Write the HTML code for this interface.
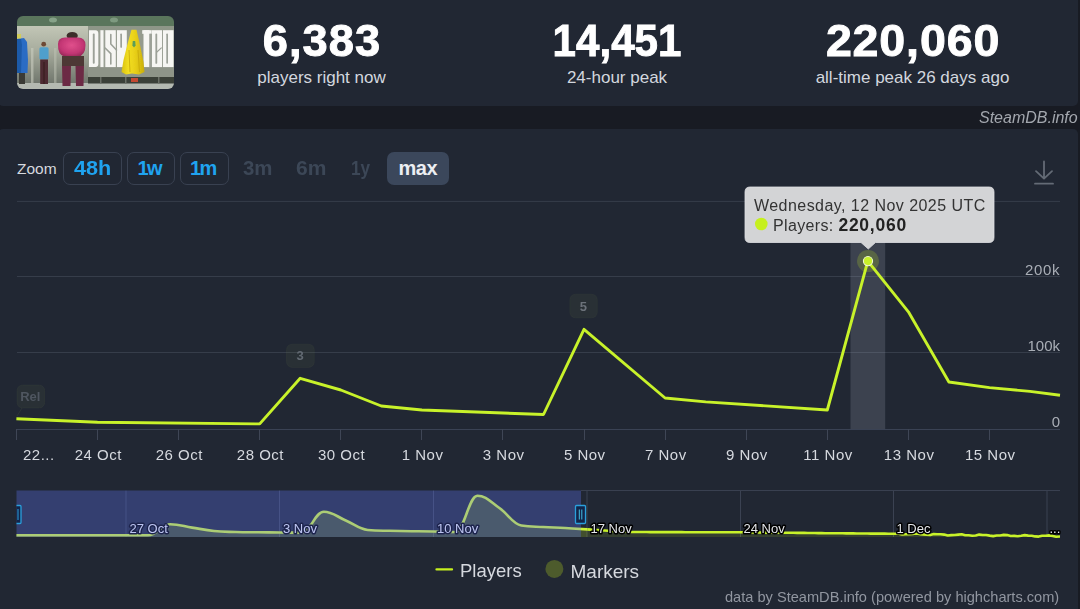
<!DOCTYPE html>
<html><head><meta charset="utf-8">
<style>
html,body{margin:0;padding:0;width:1080px;height:609px;overflow:hidden;background:#181b23;font-family:"Liberation Sans",sans-serif;}
.abs{position:absolute;white-space:pre;line-height:1;}
.panel{position:absolute;background:#212733;border-radius:5px;}
.num{font-weight:bold;font-size:43.5px;color:#fff;text-align:center;width:296px;-webkit-text-stroke:0.9px #fff;}
.sub{font-size:17px;color:#d3d7df;text-align:center;width:296px;margin-top:1px}
.btn{position:absolute;top:152px;height:31px;border:1px solid #394151;border-radius:7px;box-sizing:content-box;}
.bt{font-weight:bold;font-size:20px;color:#1fa3f0;}
.dim{font-weight:bold;font-size:20px;color:#3c4757;}
.xl{font-size:15px;color:#d6d9df;}
.yl{font-size:15px;color:#a9aeb6;text-align:right;width:60px;}
.nl{font-size:13.5px;color:#c9cbe6;text-shadow:0 0 2px #161a2a,0 0 2px #161a2a,1px 1px 1px #161a2a,-1px -1px 1px #161a2a;}
</style></head><body>
<div class="panel" style="left:-2px;top:-10px;width:1080px;height:116px;"></div>
<div class="panel" style="left:-2px;top:129px;width:1080px;height:500px;"></div>

<!-- game image -->
<!--GAME-->
<svg class="abs" style="left:17px;top:16px" width="157" height="73" viewBox="17 16 157 73">
  <defs>
    <clipPath id="rc"><rect x="17" y="16" width="157" height="73" rx="6"/></clipPath>
    <linearGradient id="wallg" x1="0" y1="0" x2="0" y2="1">
      <stop offset="0" stop-color="#c2c6b6"/><stop offset="0.4" stop-color="#a9ae9f"/><stop offset="1" stop-color="#6f756b"/>
    </linearGradient>
    <linearGradient id="capeg" x1="0" y1="0" x2="1" y2="0">
      <stop offset="0" stop-color="#d8c010"/><stop offset="0.3" stop-color="#f2de22"/><stop offset="0.6" stop-color="#e8cf18"/><stop offset="1" stop-color="#c9ae0c"/>
    </linearGradient>
    <radialGradient id="pinkg" cx="0.5" cy="0.4" r="0.6">
      <stop offset="0" stop-color="#e0508c"/><stop offset="0.7" stop-color="#c33674"/><stop offset="1" stop-color="#9a2a5a"/>
    </radialGradient>
    <filter id="soft" x="-5%" y="-5%" width="110%" height="110%"><feGaussianBlur stdDeviation="0.7"/></filter>
  </defs>
  <g clip-path="url(#rc)">
   <g filter="url(#soft)">
    <rect x="17" y="16" width="157" height="73" fill="#a9ae9f"/>
    <!-- ceiling band -->
    <rect x="17" y="16" width="157" height="10.5" fill="#5a745c"/>
    <ellipse cx="53" cy="20" rx="4" ry="2.5" fill="#86a288"/>
    <ellipse cx="114" cy="20" rx="4" ry="2.5" fill="#7e9a80"/>
    <!-- wall left -->
    <rect x="17" y="26" width="72" height="58" fill="url(#wallg)"/>
    <rect x="31" y="48" width="2.5" height="35" fill="#c9cdc0" opacity="0.6"/>
    <rect x="54" y="48" width="2.5" height="35" fill="#c0c4b6" opacity="0.5"/>
    <!-- floor -->
    <rect x="17" y="83" width="157" height="6" fill="#b4b9b1"/>
    <!-- blue caped figure -->
    <path d="M17 39 L24 38 L27 42 L28 60 L27.5 73 L17 73Z" fill="#2b6cc4"/>
    <path d="M17 39 L21 38.5 L22 45 L21 73 L17 73Z" fill="#1f5aa8"/>
    <rect x="17" y="34" width="4" height="4.5" fill="#d2cc58"/>
    <rect x="19" y="73" width="6" height="11" fill="#3b3a34"/>
    <!-- light blue figure -->
    <circle cx="43.7" cy="44.2" r="2.4" fill="#6d4a36"/>
    <rect x="39.4" y="47.2" width="9.2" height="12.4" rx="1.5" fill="#4f9fcc"/>
    <rect x="40.2" y="59.5" width="7.8" height="24.5" fill="#4e2a30"/>
    <rect x="43.6" y="62" width="0.8" height="22" fill="#2e1a20"/>
    <!-- pink figure -->
    <ellipse cx="72.2" cy="35.8" rx="5.6" ry="3.8" fill="#3e2d2b"/>
    <path d="M58 44 Q58 37 66 37.5 L77 37.5 Q85.5 37 85.5 45 Q85.5 55 78 57 L65 57 Q57.5 55 58 44Z" fill="url(#pinkg)"/>
    <rect x="62" y="56" width="22" height="10" fill="#4d3836"/>
    <path d="M62 66 L71 66 L70.5 86 L62.5 86Z M75.5 66 L84 66 L83.5 86 L76 86Z" fill="#6c2c44"/>
    <!-- stalls right -->
    <rect x="88" y="26" width="86" height="42" fill="#959b8e"/>
    <rect x="88" y="67" width="86" height="10" fill="#8e9488"/>
    <rect x="88" y="77" width="86" height="6.5" fill="#3a3f39"/>
    <rect x="100" y="77" width="1.5" height="6.5" fill="#6a6f66"/>
    <rect x="125" y="77" width="1.5" height="6.5" fill="#6a6f66"/>
    <rect x="158" y="77" width="1.5" height="6.5" fill="#6a6f66"/>
    <!-- letters -->
    <rect x="88" y="26" width="86" height="4.2" fill="#8e9688"/>
    <g fill="#f6f6f3">
      <path d="M89 30.2 H95.5 Q98.5 30.2 98.5 34 V63.3 Q98.5 67.1 95.5 67.1 H89Z"/>
      <rect x="100.3" y="30.2" width="3.4" height="36.9"/>
      <rect x="105.2" y="30.2" width="10.6" height="36.9"/>
      <rect x="117" y="30.2" width="9.8" height="36.9"/>
      <rect x="142.2" y="30.2" width="9.4" height="3.6"/>
      <rect x="143.5" y="30.2" width="6" height="36.9"/>
      <rect x="151.8" y="30.2" width="10.4" height="36.9"/>
      <rect x="163" y="30.2" width="10.5" height="36.9"/>
    </g>
    <g fill="#9ca198">
      <rect x="92.8" y="33.5" width="1.9" height="30.2" rx="0.9"/>

      <rect x="120.3" y="33.5" width="1.7" height="14.4" rx="0.8"/>
      <path d="M149.5 33.8 H151.8 V67.1 H149.5Z"/>
      <rect x="155.4" y="33.5" width="1.8" height="30.3" rx="0.9"/>
      <path d="M156.5 51.5 L161.5 47 L161.8 48.2 L157 52.7Z"/>
      <rect x="166.3" y="33.5" width="1.7" height="30.3" rx="0.8"/>
      <rect x="98.7" y="30.2" width="1.4" height="36.9" fill="#9aa094"/>
      <rect x="103.8" y="30.2" width="1.3" height="36.9" fill="#9aa094"/>
      <rect x="116" y="30.2" width="0.9" height="36.9" fill="#9aa094"/>
      <rect x="162.3" y="30.2" width="0.7" height="36.9" fill="#9aa094"/>
    </g>
    <path d="M110.8 34.6 V44 L116.5 50 M105.1 48 L110.8 53.6 V63.9" fill="none" stroke="#9ca198" stroke-width="1.6" stroke-linecap="round"/>
    <!-- cape -->
    <path d="M131.5 29.8 L136.5 29.8 L140 45 L143.5 62 L144.5 72 L139 74.5 L132 73.5 L126 74.5 L121.5 72 L123.5 60 L127.5 44Z" fill="url(#capeg)"/>
    <path d="M129 50 L130 72 M138 50 L139.5 72" stroke="#c9ac0a" stroke-width="0.9"/>
    <path d="M132.8 41 L135.2 41 L135.6 45.5 L134 47.5 L132.4 45.5Z" fill="#5a9e58"/>
    <rect x="131" y="78" width="7" height="4" fill="#c44a30"/>
   </g>
  </g>
</svg>
<!--/GAME-->

<!-- stats -->
<div class="abs num" style="left:174px;top:19.9px;letter-spacing:1px;transform:scaleX(1.04)">6,383</div>
<div class="abs sub" style="left:173.5px;top:68.2px">players right now</div>
<div class="abs num" style="left:469px;top:19.9px;letter-spacing:0px;transform:scaleX(0.968)">14,451</div>
<div class="abs sub" style="left:469px;top:68.2px">24-hour peak</div>
<div class="abs num" style="left:765px;top:19.9px;letter-spacing:0.8px;transform:scaleX(1.07)">220,060</div>
<div class="abs sub" style="left:764.5px;top:68.2px">all-time peak 26 days ago</div>
<div class="abs" style="left:979px;top:110px;font-size:16px;font-style:italic;color:#a3a7ae">SteamDB.info</div>

<!-- zoom buttons -->
<div class="abs" style="left:17px;top:160.6px;font-size:15.5px;color:#d6d9df">Zoom</div>
<div class="btn" style="left:63px;width:57px"></div>
<div class="btn" style="left:127px;width:46px"></div>
<div class="btn" style="left:180px;width:47px"></div>
<div class="abs" style="left:387px;top:152px;width:62px;height:33px;background:#3b475b;border-radius:7px"></div>
<div class="abs bt" style="left:74px;top:158.2px;transform:scaleX(1.08);transform-origin:0 0">48h</div>
<div class="abs bt" style="left:137.5px;top:158.2px;letter-spacing:-1.5px">1w</div>
<div class="abs bt" style="left:190px;top:158.2px;letter-spacing:-1.5px">1m</div>
<div class="abs dim" style="left:242.5px;top:158.2px;transform:scaleX(1.02);transform-origin:0 0">3m</div>
<div class="abs dim" style="left:295.5px;top:158.2px;transform:scaleX(1.05);transform-origin:0 0">6m</div>
<div class="abs dim" style="left:350.5px;top:158.2px;transform:scaleX(0.86);transform-origin:0 0">1y</div>
<div class="abs" style="left:398.5px;top:158.2px;font-weight:bold;font-size:20px;color:#eceef2;letter-spacing:-0.45px">max</div>

<!-- chart svg -->
<svg class="abs" style="left:0;top:0" width="1080" height="609" viewBox="0 0 1080 609">
  <!-- download icon -->
  <g stroke="#646b76" stroke-width="1.8" fill="none" stroke-linecap="round" stroke-linejoin="round">
    <path d="M1044 161.5 V178 M1036 171.2 L1044 178.6 L1052 171.2 M1035 183.7 H1053"/>
  </g>
  <!-- grid -->
  <g stroke="#363d4a" stroke-width="1">
    <path d="M17 201.4 H1060 M17 276.5 H1060 M17 352.5 H1060"/>
  </g>
  <path d="M17 429.5 H1060" stroke="#3a4254" stroke-width="1.2"/>
  <g stroke="#3f4656" stroke-width="1">
    <path d="M16.5 429 V440 M97.5 429 V440 M178.5 429 V440 M259.5 429 V440 M340.5 429 V440 M421.5 429 V440 M502.5 429 V440 M584.5 429 V440 M665.5 429 V440 M746.5 429 V440 M827.5 429 V440 M908.5 429 V440 M989.5 429 V440"/>
  </g>
  <!-- crosshair band -->
  <rect x="850.5" y="201" width="34.7" height="228" fill="#b4bcc8" fill-opacity="0.19"/>
  <!-- markers -->
  <g fill="#6f8048" fill-opacity="0.11" stroke="#7a8a50" stroke-opacity="0.07" stroke-width="1">
    <rect x="286.5" y="344.2" width="27.8" height="23.2" rx="5.5"/>
    <rect x="569.8" y="294.2" width="27.5" height="23.6" rx="5.5"/>
    <rect x="17" y="385" width="27.7" height="23" rx="5.5"/>
  </g>
  <path d="M22 408 L17 416" stroke="#6f8048" stroke-opacity="0.15" stroke-width="1"/>
  <g font-family="Liberation Sans" font-weight="bold" font-size="13" text-anchor="middle">
    <text x="300.2" y="359.8" fill="#636a73">3</text>
    <text x="583.3" y="310.9" fill="#6c727a">5</text>
    <text x="30.3" y="401.2" fill="#4f5660">Rel</text>
  </g>
  <!-- main line -->
  <polyline fill="none" stroke="#c8f22a" stroke-width="2.9" stroke-linejoin="round" points="16.4,418.7 56.9,420.5 97.5,422.3 259.7,423.9 300.2,378.3 340.8,390 381.3,406 421.9,410 543.5,414.5 584.0,329.3 665.1,398 705.7,401.9 827.3,410 867.8,261.2 908.4,311.8 948.9,382 989.5,387.6 1030.0,391.4 1060,395.3"/>
  <!-- hover marker -->
  <circle cx="868" cy="261.1" r="11" fill="#c6f01e" fill-opacity="0.2"/>
  <circle cx="868" cy="261.1" r="4.6" fill="#c8f22a" stroke="#eef8d0" stroke-width="1.1"/>
  <!-- tooltip -->
  <path d="M750 187 H989 Q994 187 994 192 V237.5 Q994 242.5 989 242.5 H875.5 L868.3 249 L861 242.5 H750 Q745 242.5 745 237.5 V192 Q745 187 750 187Z" fill="#d3d4d6" stroke="#dfe0e3" stroke-width="0.8"/>
  <circle cx="761.3" cy="224" r="6.3" fill="#c6f01e"/>

  <!-- legend -->
  <path d="M436.5 569.4 H452" stroke="#c6f01e" stroke-width="2.3" stroke-linecap="round"/>
  <circle cx="554.4" cy="568.9" r="9" fill="#4d5b2c"/>
</svg>

<!-- tooltip text -->
<div class="abs" style="left:754px;top:198.2px;font-size:16px;color:#333;letter-spacing:0.45px">Wednesday, 12 Nov 2025 UTC</div>
<div class="abs" style="left:773px;top:217.3px;font-size:16px;color:#333;letter-spacing:0.35px">Players: <b style="color:#222;font-size:17.5px;letter-spacing:0.75px">220,060</b></div>

<!-- y labels -->
<div class="abs yl" style="left:1000px;top:262px;letter-spacing:0.6px">200k</div>
<div class="abs yl" style="left:1000px;top:338.2px">100k</div>
<div class="abs yl" style="left:1000px;top:414px">0</div>

<!-- x labels -->
<div class="abs xl" style="left:23px;top:447.3px;letter-spacing:0.5px">22...</div>
<div class="abs xl" style="left:48.24px;width:100px;text-align:center;top:447.3px;letter-spacing:0.5px">24 Oct</div>
<div class="abs xl" style="left:129.33px;width:100px;text-align:center;top:447.3px;letter-spacing:0.5px">26 Oct</div>
<div class="abs xl" style="left:210.42px;width:100px;text-align:center;top:447.3px;letter-spacing:0.5px">28 Oct</div>
<div class="abs xl" style="left:291.51px;width:100px;text-align:center;top:447.3px;letter-spacing:0.5px">30 Oct</div>
<div class="abs xl" style="left:372.60px;width:100px;text-align:center;top:447.3px;letter-spacing:0.5px">1 Nov</div>
<div class="abs xl" style="left:453.69px;width:100px;text-align:center;top:447.3px;letter-spacing:0.5px">3 Nov</div>
<div class="abs xl" style="left:534.78px;width:100px;text-align:center;top:447.3px;letter-spacing:0.5px">5 Nov</div>
<div class="abs xl" style="left:615.87px;width:100px;text-align:center;top:447.3px;letter-spacing:0.5px">7 Nov</div>
<div class="abs xl" style="left:696.96px;width:100px;text-align:center;top:447.3px;letter-spacing:0.5px">9 Nov</div>
<div class="abs xl" style="left:778.05px;width:100px;text-align:center;top:447.3px;letter-spacing:0.5px">11 Nov</div>
<div class="abs xl" style="left:859.14px;width:100px;text-align:center;top:447.3px;letter-spacing:0.5px">13 Nov</div>
<div class="abs xl" style="left:940.23px;width:100px;text-align:center;top:447.3px;letter-spacing:0.5px">15 Nov</div>

<!--NAV-->
<svg class="abs" style="left:0;top:0" width="1080" height="609" viewBox="0 0 1080 609">
  <defs><clipPath id="navclip"><rect x="16.5" y="480" width="1044" height="60"/></clipPath></defs>
  <g stroke="#3b4252" stroke-width="1"><path d="M126 490.5 V537 M279.5 490.5 V537 M433.5 490.5 V537 M587 490.5 V537 M740.5 490.5 V537 M893.5 490.5 V537 M1047 490.5 V537"/></g>
  <path d="M16.5 535.2 C16.5 535.2 29.7 535.2 38.5 535.2 C47.2 535.2 51.6 535.3 60.4 535.3 C69.2 535.3 73.6 535.3 82.3 535.3 C91.1 535.3 95.5 535.3 104.3 535.3 C113.1 535.3 117.5 535.2 126.2 535.2 C135.0 535.2 139.4 535.3 148.2 535.3 C157.0 535.3 161.4 524.2 170.2 524.2 C178.9 524.2 183.3 526.2 192.1 527.6 C200.9 529.0 205.3 530.1 214.0 531.0 C222.8 531.9 227.2 531.7 236.0 532.0 C244.8 532.3 249.2 532.2 257.9 532.3 C266.7 532.4 271.1 532.4 279.9 532.5 C288.7 532.6 293.1 532.6 301.8 532.6 C310.6 532.6 315.0 511.7 323.8 511.7 C332.6 511.7 337.0 516.8 345.8 520.5 C354.5 524.2 358.9 529.2 367.7 530.0 C376.5 530.8 380.9 530.6 389.6 530.8 C398.4 531.0 402.8 531.1 411.6 531.2 C420.4 531.3 424.8 531.3 433.6 531.5 C442.3 531.7 446.7 532.0 455.5 532.0 C464.3 532.0 468.7 495.7 477.4 495.7 C486.2 495.7 490.6 502.0 499.4 508.0 C508.2 514.0 512.6 524.0 521.3 525.5 C530.1 527.0 534.5 526.5 543.3 527.0 C552.1 527.5 556.5 527.5 565.2 528.0 C574.0 528.5 587.2 529.4 587.2 529.4 V537 H16.5Z" fill="#c6f01e" fill-opacity="0.2"/>
  <path d="M587.2 529.4 L590.7 529.6 L594.2 529.8 L597.7 530.0 L601.2 530.3 L604.7 530.5 L608.2 530.7 L611.7 530.9 L615.2 531.1 L618.7 531.3 L622.2 531.5 L625.7 531.7 L629.2 532.0 L632.7 532.0 L636.2 532.0 L639.7 532.0 L643.2 532.0 L646.7 532.0 L650.2 532.1 L653.7 532.1 L657.2 532.1 L660.7 532.1 L664.2 532.1 L667.7 532.1 L671.2 532.1 L674.7 532.1 L678.2 532.1 L681.7 532.1 L685.2 532.2 L688.7 532.2 L692.2 532.2 L695.7 532.2 L699.2 532.2 L702.7 532.2 L706.2 532.2 L709.7 532.2 L713.2 532.2 L716.7 532.2 L720.2 532.2 L723.7 532.3 L727.2 532.3 L730.7 532.3 L734.2 532.3 L737.7 532.3 L741.2 532.3 L744.7 532.3 L748.2 532.4 L751.7 532.4 L755.2 532.5 L758.7 532.5 L762.2 532.5 L765.7 532.6 L769.2 532.6 L772.7 532.6 L776.2 532.7 L779.7 532.7 L783.2 532.7 L786.7 532.8 L790.2 532.8 L793.7 532.8 L797.2 532.9 L800.7 532.9 L804.2 532.9 L807.7 533.0 L811.2 533.0 L814.7 533.0 L818.2 533.1 L821.7 533.1 L825.2 533.2 L828.7 533.2 L832.2 533.2 L835.7 533.3 L839.2 533.3 L842.7 533.3 L846.2 533.4 L849.7 533.4 L853.2 533.4 L856.7 533.5 L860.2 533.5 L863.7 533.5 L867.2 533.5 L870.7 533.6 L874.2 533.6 L877.7 533.6 L881.2 533.6 L884.7 533.6 L888.2 533.7 L891.7 533.7 L895.2 533.7 L898.7 533.8 L902.2 534.5 L905.7 534.3 L909.2 534.3 L912.7 534.0 L916.2 533.4 L919.7 534.1 L923.2 534.4 L926.7 534.8 L930.2 535.0 L933.7 534.1 L937.2 534.2 L940.7 534.2 L944.2 534.6 L947.7 535.5 L951.2 535.1 L954.7 535.0 L958.2 534.6 L961.7 534.3 L965.2 535.2 L968.7 535.3 L972.2 535.7 L975.7 535.5 L979.2 534.6 L982.7 535.0 L986.2 535.0 L989.7 535.6 L993.2 536.1 L996.7 535.5 L1000.2 535.5 L1003.7 534.9 L1007.2 535.1 L1010.7 536.0 L1014.2 535.9 L1017.7 536.2 L1021.2 535.7 L1024.7 535.1 L1028.2 535.6 L1031.7 535.7 L1035.2 536.4 L1038.7 536.6 L1042.2 535.8 L1045.7 535.8 L1049.2 535.4 L1052.7 535.9 L1056.2 536.7 L1060.0 536.5 V537 H587Z" fill="#c6f01e" fill-opacity="0.12"/>
  <path d="M16.5 535.2 C16.5 535.2 29.7 535.2 38.5 535.2 C47.2 535.2 51.6 535.3 60.4 535.3 C69.2 535.3 73.6 535.3 82.3 535.3 C91.1 535.3 95.5 535.3 104.3 535.3 C113.1 535.3 117.5 535.2 126.2 535.2 C135.0 535.2 139.4 535.3 148.2 535.3 C157.0 535.3 161.4 524.2 170.2 524.2 C178.9 524.2 183.3 526.2 192.1 527.6 C200.9 529.0 205.3 530.1 214.0 531.0 C222.8 531.9 227.2 531.7 236.0 532.0 C244.8 532.3 249.2 532.2 257.9 532.3 C266.7 532.4 271.1 532.4 279.9 532.5 C288.7 532.6 293.1 532.6 301.8 532.6 C310.6 532.6 315.0 511.7 323.8 511.7 C332.6 511.7 337.0 516.8 345.8 520.5 C354.5 524.2 358.9 529.2 367.7 530.0 C376.5 530.8 380.9 530.6 389.6 530.8 C398.4 531.0 402.8 531.1 411.6 531.2 C420.4 531.3 424.8 531.3 433.6 531.5 C442.3 531.7 446.7 532.0 455.5 532.0 C464.3 532.0 468.7 495.7 477.4 495.7 C486.2 495.7 490.6 502.0 499.4 508.0 C508.2 514.0 512.6 524.0 521.3 525.5 C530.1 527.0 534.5 526.5 543.3 527.0 C552.1 527.5 556.5 527.5 565.2 528.0 C574.0 528.5 587.2 529.4 587.2 529.4" fill="none" stroke="#cdf23a" stroke-width="2.6"/>
  <path d="M587.2 529.4 L590.7 529.6 L594.2 529.8 L597.7 530.0 L601.2 530.3 L604.7 530.5 L608.2 530.7 L611.7 530.9 L615.2 531.1 L618.7 531.3 L622.2 531.5 L625.7 531.7 L629.2 532.0 L632.7 532.0 L636.2 532.0 L639.7 532.0 L643.2 532.0 L646.7 532.0 L650.2 532.1 L653.7 532.1 L657.2 532.1 L660.7 532.1 L664.2 532.1 L667.7 532.1 L671.2 532.1 L674.7 532.1 L678.2 532.1 L681.7 532.1 L685.2 532.2 L688.7 532.2 L692.2 532.2 L695.7 532.2 L699.2 532.2 L702.7 532.2 L706.2 532.2 L709.7 532.2 L713.2 532.2 L716.7 532.2 L720.2 532.2 L723.7 532.3 L727.2 532.3 L730.7 532.3 L734.2 532.3 L737.7 532.3 L741.2 532.3 L744.7 532.3 L748.2 532.4 L751.7 532.4 L755.2 532.5 L758.7 532.5 L762.2 532.5 L765.7 532.6 L769.2 532.6 L772.7 532.6 L776.2 532.7 L779.7 532.7 L783.2 532.7 L786.7 532.8 L790.2 532.8 L793.7 532.8 L797.2 532.9 L800.7 532.9 L804.2 532.9 L807.7 533.0 L811.2 533.0 L814.7 533.0 L818.2 533.1 L821.7 533.1 L825.2 533.2 L828.7 533.2 L832.2 533.2 L835.7 533.3 L839.2 533.3 L842.7 533.3 L846.2 533.4 L849.7 533.4 L853.2 533.4 L856.7 533.5 L860.2 533.5 L863.7 533.5 L867.2 533.5 L870.7 533.6 L874.2 533.6 L877.7 533.6 L881.2 533.6 L884.7 533.6 L888.2 533.7 L891.7 533.7 L895.2 533.7 L898.7 533.8 L902.2 534.5 L905.7 534.3 L909.2 534.3 L912.7 534.0 L916.2 533.4 L919.7 534.1 L923.2 534.4 L926.7 534.8 L930.2 535.0 L933.7 534.1 L937.2 534.2 L940.7 534.2 L944.2 534.6 L947.7 535.5 L951.2 535.1 L954.7 535.0 L958.2 534.6 L961.7 534.3 L965.2 535.2 L968.7 535.3 L972.2 535.7 L975.7 535.5 L979.2 534.6 L982.7 535.0 L986.2 535.0 L989.7 535.6 L993.2 536.1 L996.7 535.5 L1000.2 535.5 L1003.7 534.9 L1007.2 535.1 L1010.7 536.0 L1014.2 535.9 L1017.7 536.2 L1021.2 535.7 L1024.7 535.1 L1028.2 535.6 L1031.7 535.7 L1035.2 536.4 L1038.7 536.6 L1042.2 535.8 L1045.7 535.8 L1049.2 535.4 L1052.7 535.9 L1056.2 536.7 L1060.0 536.5" fill="none" stroke="#c8f22a" stroke-width="2.6" stroke-linejoin="round"/>
  <g font-family="Liberation Sans" font-size="13" fill="#e4e6ea" stroke="#000" stroke-width="3" stroke-linejoin="round" paint-order="stroke">
    <text x="129.5" y="533.2">27 Oct</text>
    <text x="283" y="533.2">3 Nov</text>
    <text x="437" y="533.2">10 Nov</text>
    <text x="590.5" y="533.2">17 Nov</text>
    <text x="743.5" y="533.2">24 Nov</text>
    <text x="896.5" y="533.2">1 Dec</text>
    <text x="1049.5" y="533.2">...</text>
  </g>
  <rect x="16.5" y="490.5" width="564.5" height="46.5" fill="rgb(96,119,254)" fill-opacity="0.3"/>
  <path d="M581 490.5 H1060" stroke="#394050" stroke-width="1"/>
  <g clip-path="url(#navclip)">
    <rect x="12" y="505.5" width="9" height="18" rx="1" fill="#12254a" stroke="#2aa0dc" stroke-width="1.3"/>
    <path d="M18 509 V520" stroke="#2aa0dc" stroke-width="1"/>
  </g>
  <rect x="575.5" y="505.5" width="10" height="18" rx="1" fill="#12254a" stroke="#2aa0dc" stroke-width="1.3"/>
  <path d="M579.3 509.5 V519.5 M581.8 509.5 V519.5" stroke="#45bde0" stroke-width="1"/>
</svg>
<!--/NAV-->

<!-- legend text -->
<div class="abs" style="left:460px;top:562.1px;font-size:18.5px;color:#d6d9df">Players</div>
<div class="abs" style="left:570.5px;top:562.1px;font-size:19px;color:#d6d9df">Markers</div>

<!-- credits -->
<div class="abs" style="left:725px;top:590px;font-size:14.6px;color:#9196a0">data by SteamDB.info (powered by highcharts.com)</div>
</body></html>
